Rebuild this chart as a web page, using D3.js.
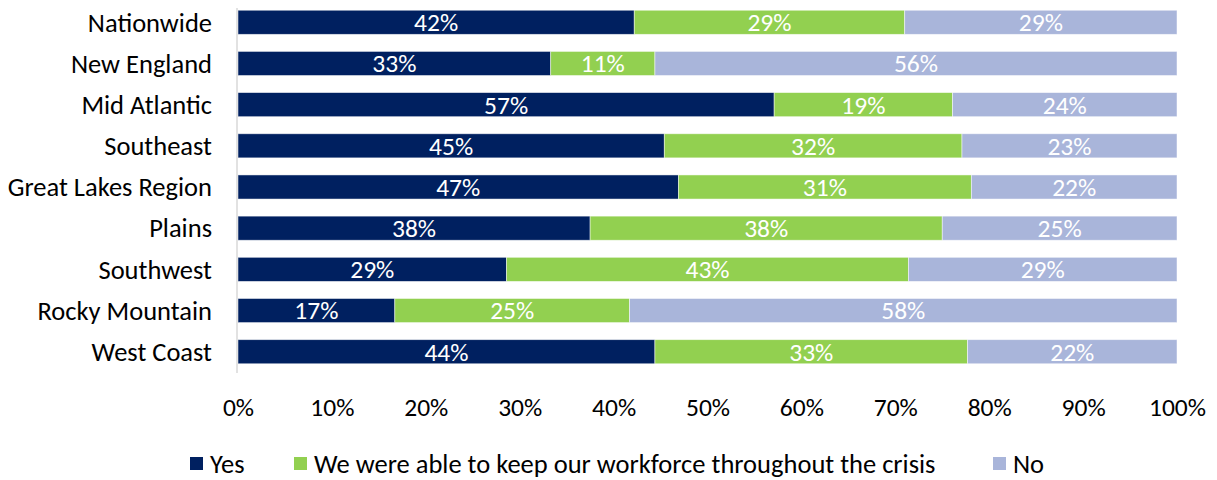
<!DOCTYPE html>
<html>
<head>
<meta charset="utf-8">
<script src="https://cdn.jsdelivr.net/npm/d3@7"></script>
<style>
  body { margin: 0; background: #fff; }
  text { font-family: Carlito, Calibri, Lato, sans-serif; }
</style>
</head>
<body>
<div id="chart"></div>
<script>
// regions, top to bottom
var regions = ["Nationwide", "New England", "Mid Atlantic", "Southeast", "Great Lakes Region",
               "Plains", "Southwest", "Rocky Mountain", "West Coast"];
var yes       = [42.2, 33.3, 57.1, 45.4, 46.9, 37.5, 28.6, 16.7, 44.4];
var keptStaff = [28.8, 11.1, 19.0, 31.7, 31.2, 37.5, 42.8, 25.0, 33.3];
var no        = [29.0, 55.6, 23.9, 22.9, 21.9, 25.0, 28.6, 58.3, 22.3];
var seriesNames = ["Yes", "We were able to keep our workforce throughout the crisis", "No"];
var seriesColors = ["#002060", "#92D050", "#A9B5DA"];
var xTicks = [0, 10, 20, 30, 40, 50, 60, 70, 80, 90, 100];

var width = 1217, height = 480;
var margin = { left: 238, right: 40, top: 2, bottom: 108 };

var svg = d3.select("#chart").append("svg")
    .attr("width", width)
    .attr("height", height);

var x = d3.scaleLinear().domain([0, 100]).range([margin.left, width - margin.right]);
var y = d3.scaleBand().domain(regions).range([margin.top, height - margin.bottom]).paddingInner(0.415).paddingOuter(0.2);

// build rows for the stack
var rows = regions.map(function (r, i) {
    return { region: r, s0: yes[i], s1: keptStaff[i], s2: no[i] };
});
var stack = d3.stack().keys(["s0", "s1", "s2"])(rows);

var groups = svg.append("g").selectAll("g")
    .data(stack)
    .enter()
    .append("g")
    .attr("fill", (d, i) => seriesColors[i]);

groups.selectAll("rect")
    .data(d => d)
    .enter()
    .append("rect")
    .attr("x", d => x(d[0]))
    .attr("y", d => y(d.data.region))
    .attr("width", d => x(d[1]) - x(d[0]))
    .attr("height", y.bandwidth())
    .attr("stroke", "#ffffff")
    .attr("stroke-opacity", 0.6)
    .attr("stroke-width", 0.8);

groups.selectAll("text")
    .data(d => d)
    .enter()
    .append("text")
    .attr("x", d => (x(d[0]) + x(d[1])) / 2)
    .attr("y", d => y(d.data.region) + y.bandwidth() / 2)
    .attr("dy", "0.35em")
    .attr("text-anchor", "middle")
    .attr("fill", "#ffffff")
    .attr("font-size", 25.5)
    .text(d => Math.round(d[1] - d[0]) + "%");

// vertical axis line
svg.append("line")
    .attr("x1", x(0) - 1).attr("x2", x(0) - 1)
    .attr("y1", margin.top + 6).attr("y2", 373)
    .attr("stroke", "#d9d9d9")
    .attr("stroke-width", 1.5);

// category labels
svg.append("g").selectAll("text")
    .data(regions)
    .enter()
    .append("text")
    .attr("x", 212)
    .attr("y", d => y(d) + y.bandwidth() / 2)
    .attr("dy", "0.35em")
    .attr("text-anchor", "end")
    .attr("font-size", 26.5)
    .attr("fill", "#000")
    .text(d => d);

// x axis tick labels
var xAxis = d3.axisBottom(x).tickValues(xTicks).tickFormat(d => d + "%").tickSize(0).tickPadding(0);
var ax = svg.append("g").attr("transform", "translate(0,398)").call(xAxis);
ax.select(".domain").remove();
ax.selectAll("text").attr("font-size", 25.5).attr("fill", "#000").style("font-family", "Carlito, Calibri, Lato, sans-serif");

// legend
var legendX = [190, 294, 993];
var legend = svg.append("g").selectAll("g")
    .data(seriesNames)
    .enter()
    .append("g")
    .attr("transform", (d, i) => "translate(" + legendX[i] + ",457)");
legend.append("rect")
    .attr("width", 13).attr("height", 13)
    .attr("fill", (d, i) => seriesColors[i]);
legend.append("text")
    .attr("x", 20).attr("y", 7)
    .attr("dy", "0.35em")
    .attr("font-size", 26.5)
    .text(d => d);
</script>
</body>
</html>
